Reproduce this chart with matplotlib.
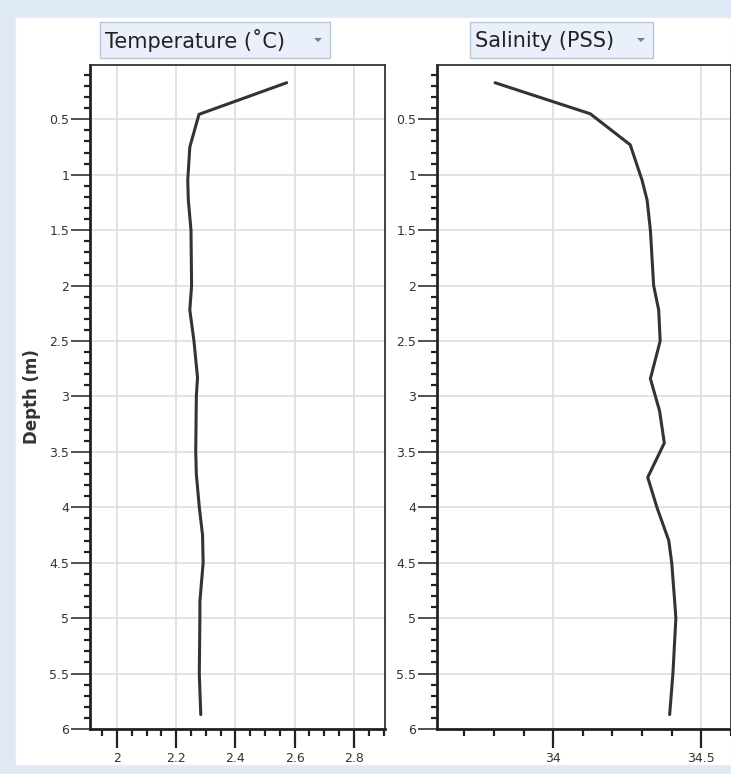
import matplotlib
matplotlib.use("Agg")
import matplotlib.pyplot as plt
from matplotlib.patches import Rectangle, Polygon
from matplotlib.ticker import MultipleLocator, FormatStrFormatter

# ---- data ----
temp_depth = [0.17, 0.455, 0.75, 1.05, 1.23, 1.5, 2.0, 2.22, 2.5, 2.83, 3.0, 3.5, 3.7,
              4.0, 4.25, 4.5, 4.85, 5.0, 5.5, 5.87]
temp_vals = [2.573, 2.277, 2.246, 2.239, 2.241, 2.250, 2.252, 2.246, 2.260, 2.272, 2.268,
             2.266, 2.268, 2.278, 2.289, 2.291, 2.280, 2.280, 2.278, 2.283]

sal_depth = [0.17, 0.45, 0.73, 1.05, 1.23, 1.5, 2.0, 2.22, 2.5, 2.84, 3.13, 3.42, 3.73,
             4.0, 4.3, 4.5, 4.85, 5.0, 5.5, 5.87]
sal_vals = [33.804, 34.125, 34.26, 34.30, 34.317, 34.328, 34.339, 34.356, 34.361, 34.328,
            34.359, 34.375, 34.319, 34.35, 34.39, 34.40, 34.41, 34.414, 34.404, 34.393]

titles = ["Temperature (˚C)", "Salinity (PSS)"]
ylabel = "Depth (m)"

W, H = 731, 774
fig = plt.figure(figsize=(W / 100, H / 100), dpi=100)
fig.patch.set_facecolor("#dfe9f5")
# white inner panel
fig.patches.append(Rectangle((15 / W, 1 - 765 / H), (W - 15) / W, (765 - 17) / H,
                             transform=fig.transFigure, facecolor="white",
                             edgecolor="#e6edf6", lw=1, zorder=-10))


def fx(px):
    return px / W


def fy(py):
    return 1 - py / H


top, bot = 65, 729
ax1 = fig.add_axes([fx(90), fy(bot), fx(385) - fx(90), fy(top) - fy(bot)])
ax2 = fig.add_axes([fx(437), fy(bot), fx(731) - fx(437), fy(top) - fy(bot)])

line_color = "#333333"
ax1.plot(temp_vals, temp_depth, color=line_color, lw=2.2, solid_joinstyle="round",
         solid_capstyle="round")
ax2.plot(sal_vals, sal_depth, color=line_color, lw=2.2, solid_joinstyle="round",
         solid_capstyle="round")

ax1.set_xlim(1.909, 2.905)
ax2.set_xlim(33.608, 34.600)

for ax, xmaj, xmin, fmt in [(ax1, 0.2, 0.05, "%g"), (ax2, 0.5, 0.1, "%g")]:
    ax.set_facecolor("white")
    ax.set_ylim(6.0, 0.01)
    ax.yaxis.set_major_locator(MultipleLocator(0.5))
    ax.yaxis.set_minor_locator(MultipleLocator(0.1))
    ax.xaxis.set_major_locator(MultipleLocator(xmaj))
    ax.xaxis.set_minor_locator(MultipleLocator(xmin))
    ax.xaxis.set_major_formatter(FormatStrFormatter(fmt))
    ax.yaxis.set_major_formatter(FormatStrFormatter("%g"))
    ax.grid(True, which="major", color="#e0e0e0", lw=1.3)
    ax.set_axisbelow(True)
    ax.tick_params(axis="y", which="major", direction="out", length=14, width=1.1,
                   color="#222222", labelsize=9, labelcolor="#333333", pad=1)
    ax.tick_params(axis="y", which="minor", direction="out", length=4, width=1.6,
                   color="#222222")
    ax.tick_params(axis="x", which="major", direction="out", length=13.5, width=1.6,
                   color="#222222", labelsize=9, labelcolor="#333333", pad=3)
    ax.tick_params(axis="x", which="minor", direction="out", length=5, width=1.6,
                   color="#222222")
    for s in ["left", "bottom"]:
        ax.spines[s].set_linewidth(2.0)
        ax.spines[s].set_color("#222222")
    for s in ["top", "right"]:
        ax.spines[s].set_linewidth(1.3)
        ax.spines[s].set_color("#333333")

ax1.set_ylabel(ylabel, fontsize=12, fontweight="bold", color="#333333", labelpad=6)

# title "dropdown" boxes
boxes = [(100, 330, titles[0]), (470, 653, titles[1])]
for x0, x1, txt in boxes:
    y0, y1 = 22, 58
    fig.patches.append(Rectangle((fx(x0), fy(y1)), fx(x1) - fx(x0), fy(y0) - fy(y1),
                                 transform=fig.transFigure, facecolor="#e9f0f9",
                                 edgecolor="#b9c6d6", lw=1.0, zorder=1))
    fig.text(fx(x0 + 5), fy((y0 + y1) / 2 + 1), txt, fontsize=15, color="#222222",
             va="center", ha="left", zorder=2)
    ax_c = x1 - 12
    ay_c = (y0 + y1) / 2
    fig.patches.append(Polygon([[fx(ax_c - 4), fy(ay_c - 2)], [fx(ax_c + 4), fy(ay_c - 2)],
                                [fx(ax_c), fy(ay_c + 2)]], closed=True,
                               transform=fig.transFigure, facecolor="#6f7f94",
                               edgecolor="none", zorder=2))

fig.savefig("out.png", dpi=100, facecolor=fig.get_facecolor())
